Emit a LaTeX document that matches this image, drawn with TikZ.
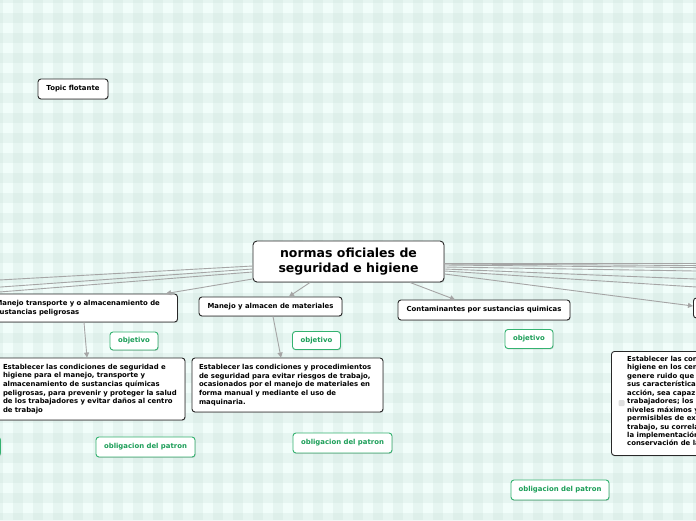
\documentclass[tikz,border=0pt]{standalone}
\usepackage{fontspec}
\setmainfont{DejaVu Sans}
\usetikzlibrary{arrows.meta,shadows}

\definecolor{bgbase}{RGB}{241,253,250}
\definecolor{bgband}{RGB}{190,215,208}
\definecolor{conn}{RGB}{165,165,165}
\definecolor{boxline}{RGB}{40,40,40}
\definecolor{gline}{RGB}{52,178,112}
\definecolor{gtext}{RGB}{28,158,88}

\tikzset{
  boxbase/.style={fill=white, line width=0.9pt, rounded corners=3pt,
    drop shadow={shadow xshift=0.6pt, shadow yshift=-0.9pt, opacity=0.35}},
  topicbox/.style={boxbase, draw=boxline, inner xsep=7pt, inner ysep=0pt,
    font=\fontsize{6.9}{8.6}\selectfont\bfseries},
  mainbox/.style={boxbase, draw=boxline, rounded corners=4pt, inner sep=0pt, align=center,
    font=\fontsize{12.5}{15.5}\selectfont\bfseries},
  greenbox/.style={boxbase, draw=gline, text=gtext, inner sep=0pt, align=center,
    font=\fontsize{6.9}{8.6}\selectfont\bfseries},
  desctext/.style={inner sep=0pt, align=left, font=\fontsize{6.9}{8.45}\selectfont\bfseries},
  conline/.style={draw=conn, line width=0.9pt},
  conarrow/.style={conline, -{Triangle[width=5pt,length=5pt]}}
}

\begin{document}
\begin{tikzpicture}[x=1pt,y=-1pt]
\useasboundingbox (0,0) rectangle (696,520);
\clip (0,0) rectangle (696,520);
% background gingham
\fill[bgbase] (0,0) rectangle (696,520);
\foreach \i in {-1,...,35} {\fill[bgband, opacity=0.2] (13+20*\i,0) rectangle (23+20*\i,520);}
\foreach \j in {-1,...,26} {\fill[bgband, opacity=0.2] (0,13+20*\j) rectangle (696,23+20*\j);}

% off-canvas coordinates
\coordinate (l1) at (-30,281.6);
\coordinate (l2) at (-30,289.2);
\coordinate (l3) at (-30,294.3);
\coordinate (r1) at (720,263);
\coordinate (r2) at (720,265.7);
\coordinate (r3) at (720,267.8);
\coordinate (r4) at (720,271.4);
\coordinate (r5) at (720,280);
\coordinate (r6) at (720,288.5);

% nodes
\node[mainbox, minimum width=191pt, minimum height=41pt] (c) at (348.5,261.5) {normas oficiales de\\seguridad e higiene};
\node[topicbox, minimum width=70pt, minimum height=20pt, inner xsep=0pt] (tf) at (73,89) {Topic flotante};

\node[topicbox, text width=175pt, minimum height=28pt, align=left] (b3) at (83,308) {Manejo transporte y o almacenamiento de\\sustancias peligrosas};
\node[topicbox, minimum width=143pt, minimum height=19pt, inner xsep=0pt] (b4) at (270.5,306.5) {Manejo y almacen de materiales};
\node[topicbox, minimum width=172pt, minimum height=20pt, inner xsep=0pt] (b5) at (484,310) {Contaminantes por sustancias quimicas};
\node[topicbox, minimum width=160pt, minimum height=20pt, anchor=west] (b6) at (693,308) {};

\node[greenbox, minimum width=48pt, minimum height=18pt] (o1) at (134,341) {objetivo};
\node[greenbox, minimum width=48pt, minimum height=18pt] (o2) at (316.5,340.5) {objetivo};
\node[greenbox, minimum width=48pt, minimum height=19pt] (o3) at (529,339) {objetivo};

\node[topicbox, text width=175pt, minimum height=62pt, align=left] (da) at (90.5,389) {Establecer las condiciones de seguridad e\\higiene para el manejo, transporte y\\almacenamiento de sustancias químicas\\peligrosas, para prevenir y proteger la salud\\de los trabajadores y evitar daños al centro\\de trabajo};
\node[topicbox, text width=177pt, minimum height=54pt, align=left] (db) at (287.5,385) {Establecer las condiciones y procedimientos\\de seguridad para evitar riesgos de trabajo,\\ocasionados por el manejo de materiales en\\forma manual y mediante el uso de\\maquinaria.};

\node[topicbox, minimum width=200pt, minimum height=104pt, anchor=north west] (dc) at (611,351) {};
\node[desctext, anchor=north west] (dct) at (627,356) {Establecer las condiciones de seguridad e\\higiene en los centros de trabajo donde se\\genere ruido que por\\sus características, niveles y tiempo de\\acción, sea capaz de alterar la salud de los\\trabajadores; los\\niveles máximos y los tiempos máximos\\permisibles de exposición por jornada de\\trabajo, su correlación y\\la implementación de un programa de\\conservación de la audición.};
\fill[gray!25, rounded corners=1pt] (618.5,400) rectangle (624.5,406);

\node[greenbox, minimum width=99pt, minimum height=20pt] (g1) at (145.5,447) {obligacion del patron};
\node[greenbox, minimum width=99pt, minimum height=20pt] (g2) at (342.5,443) {obligacion del patron};
\node[greenbox, minimum width=98pt, minimum height=20pt] (g3) at (560,490) {obligacion del patron};
\node[greenbox, minimum width=99pt, minimum height=19pt, anchor=east] (g0) at (1,446.5) {};

% connectors
\draw[conline] ([yshift=-4.5pt]c.west) -- (l1);
\draw[conline] ([yshift=-7.5pt]c.west) -- (l2);
\draw[conline] ([yshift=-10.5pt]c.west) -- (l3);
\draw[conarrow] ([yshift=-17.5pt]c.west) -- ([xshift=83pt]b3.north);
\draw[conarrow] ([xshift=-38.5pt]c.south) -- ([xshift=18.5pt]b4.north);
\draw[conarrow] ([xshift=61.5pt]c.south) -- ([xshift=-29pt]b5.north);
\draw[conline] ([yshift=-1.5pt]c.east) -- (r1);
\draw[conline] ([yshift=-2.5pt]c.east) -- (r2);
\draw[conline] ([yshift=-3.5pt]c.east) -- (r3);
\draw[conline] ([yshift=-5.5pt]c.east) -- (r4);
\draw[conline] ([yshift=-7.5pt]c.east) -- (r5);
\draw[conline] ([yshift=-9.5pt]c.east) -- (r6);
\draw[conarrow] ([yshift=-12.5pt]c.east) -- ([yshift=2pt]b6.west);
\draw[conarrow] ([xshift=1pt]b3.south) -- ([xshift=-3.5pt]da.north);
\draw[conarrow] ([xshift=2.5pt]b4.south) -- ([xshift=-6.5pt]db.north);
\end{tikzpicture}
\end{document}
